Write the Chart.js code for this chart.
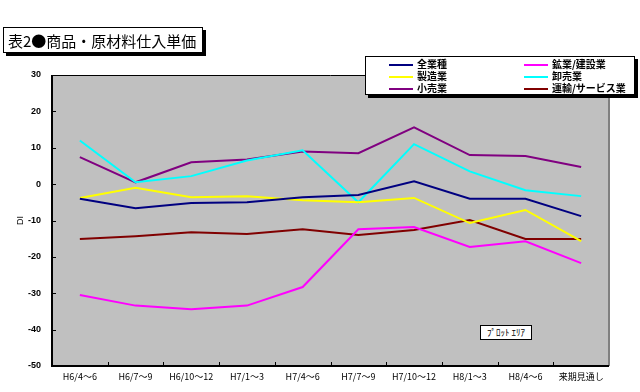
<!DOCTYPE html>
<html>
<head>
<meta charset="utf-8">
<script src="https://cdn.jsdelivr.net/npm/chart.js@4"></script>
<style>
  body { margin: 0; background: #fff; font-family: "Noto Sans CJK JP", sans-serif; }
  #wrap { position: relative; width: 640px; height: 392px; overflow: hidden; }
  #chart { position: absolute; left: 0; top: 0; }
  .box { position: absolute; background: #fff; border: 1px solid #000; box-shadow: 3px 3px 0 #000; }
  #title { left: 3px; top: 27px; width: 200px; height: 26px; font-size: 15px; line-height: 26px; padding-left: 4px; box-sizing: border-box; white-space: nowrap; }
  #legend { left: 365px; top: 56px; width: 270px; height: 39px; box-sizing: border-box; }
  .item { position: absolute; font-size: 10px; font-weight: bold; line-height: 12px; white-space: nowrap; }
  .item .sw { display: inline-block; width: 24px; height: 2px; vertical-align: middle; margin-right: 4px; }
  #plotlabel { position: absolute; left: 480px; top: 325px; width: 52px; height: 15px; background: #fff; border: 1px solid #000; font-size: 9px; line-height: 14px; text-align: center; box-sizing: border-box; white-space: nowrap; }
</style>
</head>
<body>
<div id="wrap">
  <canvas id="chart" width="640" height="392"></canvas>
  <div id="title" class="box">表2●商品・原材料仕入単価</div>
  <div id="legend" class="box"></div>
  <div id="plotlabel">ﾌﾟﾛｯﾄ ｴﾘｱ</div>
</div>
<script>
const categories = ['H6/4～6', 'H6/7～9', 'H6/10～12', 'H7/1～3', 'H7/4～6', 'H7/7～9', 'H7/10～12', 'H8/1～3', 'H8/4～6', '来期見通し'];

const allIndustries = [-4, -6.6, -5.2, -5, -3.6, -3, 0.8, -4, -4, -8.8];
const miningConstruction = [-30.5, -33.4, -34.4, -33.4, -28.3, -12.4, -11.8, -17.3, -15.7, -21.7];
const manufacturing = [-3.8, -1, -3.6, -3.3, -4.4, -5, -3.8, -10.7, -7.1, -15.7];
const wholesale = [12, 0.5, 2.2, 6.5, 9.3, -5, 11, 3.5, -1.7, -3.3];
const retail = [7.4, 0.5, 6, 6.8, 9, 8.5, 15.6, 8, 7.7, 4.7];
const transportService = [-15.1, -14.3, -13.2, -13.7, -12.4, -14, -12.6, -9.9, -15.1, -15.1];

const yTicks = [30, 20, 10, 0, -10, -20, -30, -40, -50];

const series = [
  { label: '全業種', data: allIndustries, color: '#000080', col: 0, row: 0 },
  { label: '鉱業/建設業', data: miningConstruction, color: '#ff00ff', col: 1, row: 0 },
  { label: '製造業', data: manufacturing, color: '#ffff00', col: 0, row: 1 },
  { label: '卸売業', data: wholesale, color: '#00ffff', col: 1, row: 1 },
  { label: '小売業', data: retail, color: '#800080', col: 0, row: 2 },
  { label: '運輸/サービス業', data: transportService, color: '#800000', col: 1, row: 2 },
];

// legend box
const legend = document.getElementById('legend');
legend.innerHTML = series
  .map((s) => `<div class="item" style="left:${s.col ? 158 : 23}px;top:${1 + s.row * 12}px">
      <span class="sw" style="background:${s.color}"></span>${s.label}</div>`)
  .join('');

const plotFrame = {
  id: 'plotFrame',
  beforeDatasetsDraw(chart) {
    const { ctx, chartArea: a } = chart;
    ctx.save();
    ctx.fillStyle = '#c0c0c0';
    ctx.fillRect(a.left, a.top, a.right - a.left, a.bottom - a.top);
    ctx.restore();
  },
  afterDatasetsDraw(chart) {
    const { ctx, chartArea: a, scales } = chart;
    ctx.save();
    // right edge
    ctx.strokeStyle = '#808080';
    ctx.lineWidth = 2;
    ctx.beginPath();
    ctx.moveTo(a.right, a.top);
    ctx.lineTo(a.right, a.bottom);
    ctx.stroke();
    // top
    ctx.strokeStyle = '#000';
    ctx.lineWidth = 1;
    ctx.beginPath();
    ctx.moveTo(a.left, a.top + 0.5);
    ctx.lineTo(a.right, a.top + 0.5);
    ctx.stroke();
    // left and bottom axes
    ctx.lineWidth = 2;
    ctx.beginPath();
    ctx.moveTo(a.left, a.top);
    ctx.lineTo(a.left, a.bottom);
    ctx.lineTo(a.right, a.bottom);
    ctx.stroke();
    // inward tick marks
    ctx.lineWidth = 1;
    ctx.beginPath();
    yTicks.forEach((v) => {
      const y = Math.round(scales.y.getPixelForValue(v)) + 0.5;
      ctx.moveTo(a.left, y);
      ctx.lineTo(a.left + 4, y);
    });
    const x = scales.x;
    const half = (x.getPixelForValue(1) - x.getPixelForValue(0)) / 2;
    for (let i = 1; i < categories.length; i++) {
      const px = Math.round(x.getPixelForValue(i) - half) + 0.5;
      ctx.moveTo(px, a.bottom);
      ctx.lineTo(px, a.bottom - 4);
    }
    ctx.stroke();
    ctx.restore();
  },
};

new Chart(document.getElementById('chart'), {
  type: 'line',
  data: {
    labels: categories,
    datasets: series.map((s) => ({
      label: s.label,
      data: s.data,
      borderColor: s.color,
      backgroundColor: s.color,
      borderWidth: 2,
      pointRadius: 0,
      tension: 0,
    })),
  },
  options: {
    responsive: false,
    animation: false,
    layout: { padding: { top: 75, right: 31, left: 0, bottom: 0 } },
    plugins: { legend: { display: false }, tooltip: { enabled: false } },
    scales: {
      x: {
        offset: true,
        grid: { display: false },
        border: { display: false },
        ticks: { color: '#000', font: { size: 9, family: '"Noto Sans CJK JP", sans-serif' }, padding: -3, maxRotation: 0, autoSkip: false },
        afterFit: (s) => { s.height = 26; },
      },
      y: {
        min: -50,
        max: 30,
        grid: { display: false },
        border: { display: false },
        ticks: { stepSize: 10, color: '#000', font: { size: 9, weight: 'bold', family: 'Arial, "Liberation Sans", sans-serif' }, padding: 3 },
        title: { display: true, text: 'DI', color: '#000', font: { size: 9, family: 'Arial, "Liberation Sans", sans-serif' }, padding: { top: 15, bottom: 0 } },
        afterFit: (s) => { s.width = 52; },
      },
    },
  },
  plugins: [plotFrame],
});
</script>
</body>
</html>
